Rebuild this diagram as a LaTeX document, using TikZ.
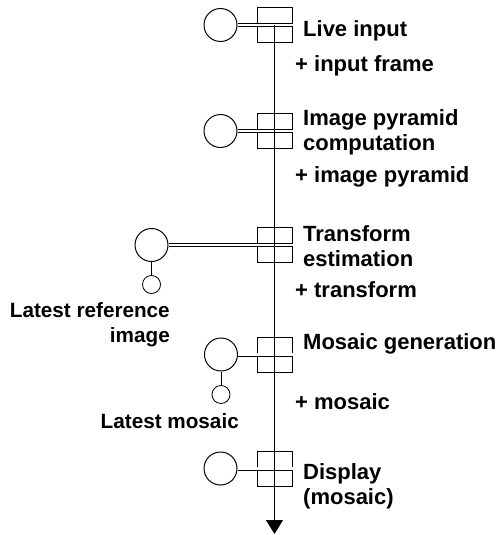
\documentclass[tikz,border=0pt]{standalone}
\usepackage{fontspec}
\setmainfont{Liberation Sans}
\usetikzlibrary{arrows.meta}

\begin{document}
\begin{tikzpicture}[x=1pt, y=-1pt,
  stagebox/.style={draw, line width=1pt, minimum width=35pt, minimum height=35pt, inner sep=0pt},
  bigcirc/.style={draw, circle, line width=1pt, minimum size=33pt, inner sep=0pt},
  smallcirc/.style={draw, circle, line width=0.8pt, minimum size=18pt, inner sep=0pt},
  link/.style={double, double distance=2.4pt, line width=0.8pt},
  stagetext/.style={anchor=base west, align=left, inner sep=0pt, font=\fontsize{22}{25}\selectfont\bfseries},
  sidetext/.style={anchor=base east, align=right, inner sep=0pt, font=\fontsize{20.7}{24.5}\selectfont\bfseries}]
\useasboundingbox (0,0) rectangle (502,535);

% stages
\node[stagebox] (b1) at (274.5, 25) {};
\node[stagebox] (b2) at (274.5, 131) {};
\node[stagebox] (b3) at (274.5, 245) {};
\node[stagebox] (b4) at (274.5, 354.5) {};
\node[stagebox] (b5) at (274.5, 468.5) {};

\node[bigcirc] (c1) at (220.5, 25) {};
\node[bigcirc] (c2) at (220.5, 131) {};
\node[bigcirc] (c3) at (151.5, 245) {};
\node[bigcirc] (c4) at (221, 354.5) {};
\node[bigcirc] (c5) at (220.5, 468.5) {};

\node[smallcirc] (s3) at (151.5, 284.5) {};
\node[smallcirc] (s4) at (221, 394.5) {};

\coordinate (flowend) at (274.5, 534);

% links
\draw[link] (c1.east) -- (b1.east);
\draw[link] (c2.east) -- (b2.east);
\draw[link] (c3.east) -- (b3.east);
\draw[link] (c4.east) -- (b4.east);
\draw[link] (c5.east) -- (b5.east);
\draw[line width=0.8pt] (c3.south) -- (s3.north);
\draw[line width=0.8pt] (c4.south) -- (s4.north);
\draw[line width=1pt, -{Triangle[width=17pt, length=14pt]}] (b1.center) -- (flowend);

% labels (multi-line nodes sit on their last baseline)
\node[stagetext] (t1) at (303, 37) {Live input};
\node[stagetext] (d1) at (295, 71) {+ input frame};
\node[stagetext] (t2) at (303, 150) {Image pyramid\\computation};
\node[stagetext] (d2) at (295, 182) {+ image pyramid};
\node[stagetext] (t3) at (303, 266) {Transform\\estimation};
\node[stagetext] (d3) at (295, 297) {+ transform};
\node[stagetext] (t4) at (303, 349) {Mosaic generation};
\node[stagetext] (d4) at (295, 409) {+ mosaic};
\node[stagetext] (t5) at (303, 504) {Display\\(mosaic)};
\node[sidetext] (l3) at (170, 342) {Latest reference\\image};
\node[sidetext] (l4) at (239, 428) {Latest mosaic};
\end{tikzpicture}
\end{document}
